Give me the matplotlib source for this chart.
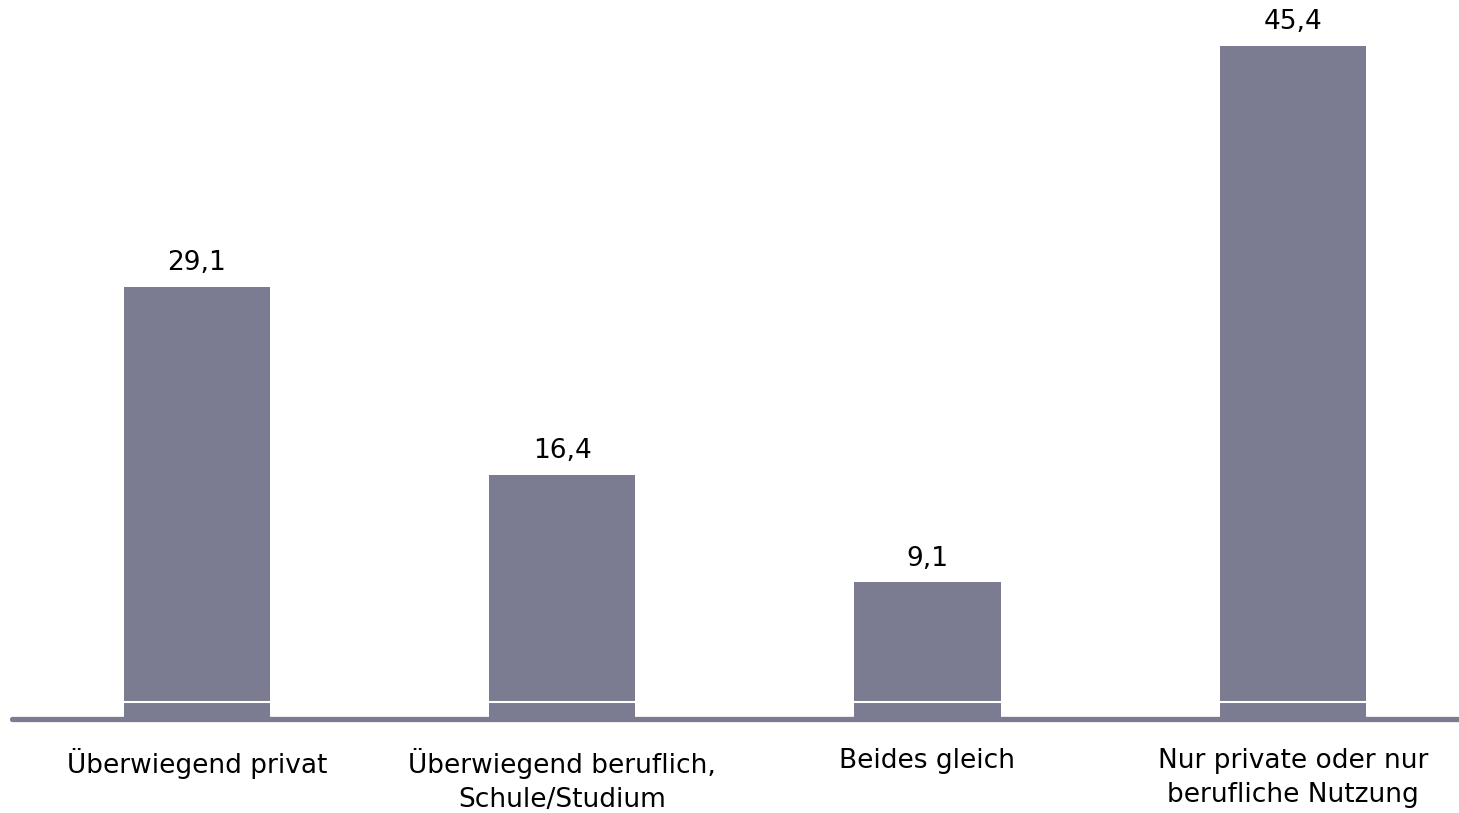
import matplotlib.pyplot as plt
import numpy as np

plt.rcParams['font.family'] = ['DejaVu Sans']

categories = ['Überwiegend privat', 'Überwiegend beruflich,\nSchule/Studium',
              'Beides gleich', 'Nur private oder nur\nberufliche Nutzung']
values = [29.1, 16.4, 9.1, 45.4]
labels = ['29,1', '16,4', '9,1', '45,4']

BAR_COLOR = '#7b7b91'

fig = plt.figure(figsize=(14.59, 8.13), dpi=100)
ax = fig.add_axes([12 / 1459, (813 - 717) / 813, 1447 / 1459, 717 / 813])

x = np.arange(len(categories))
bars = ax.bar(x, values, width=0.4, color=BAR_COLOR)

# dünne weiße Linie im unteren Bereich der Balken
for b in bars:
    ax.hlines(1.0, b.get_x(), b.get_x() + b.get_width(), color='white', linewidth=1.5)

# Basislinie
ax.axhline(-0.15, color=BAR_COLOR, linewidth=3.8, clip_on=False, solid_capstyle='round')

for b, lab in zip(bars, labels):
    ax.text(b.get_x() + b.get_width() / 2, b.get_height() + 0.7, lab,
            ha='center', va='bottom', fontsize=19, color='black')

ax.set_xlim(-0.506, 3.455)
ax.set_ylim(0, 48.5)
ax.set_xticks(x)
ax.set_xticklabels(categories, fontsize=19, linespacing=1.42)
ax.tick_params(axis='x', length=0, pad=22)
ax.set_yticks([])
for s in ax.spines.values():
    s.set_visible(False)

plt.savefig('out.png', dpi=100)
